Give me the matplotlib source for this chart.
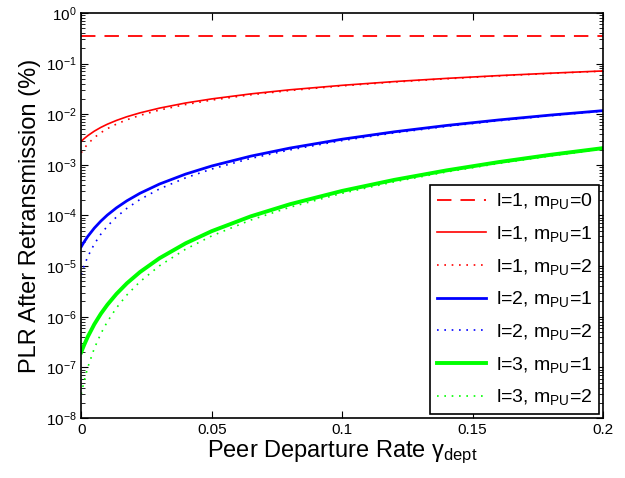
import matplotlib
matplotlib.use("Agg")
import matplotlib.pyplot as plt
import numpy as np

plt.rcParams['font.family'] = ['Liberation Sans', 'DejaVu Sans']
plt.rcParams['mathtext.fontset'] = 'custom'
plt.rcParams['mathtext.rm'] = 'Liberation Sans'
plt.rcParams['mathtext.it'] = 'Liberation Sans:italic'

# departure rate samples
gamma = [0, 0.001, 0.0025, 0.005, 0.0075, 0.01, 0.0135, 0.0175, 0.0225, 0.03,
         0.04, 0.05, 0.065, 0.08, 0.1, 0.12, 0.14, 0.16, 0.18, 0.2]

# log10 of PLR (%)
plr_l1_m0 = [-0.46] * len(gamma)
plr_l1_m1 = [-2.536, -2.487, -2.424, -2.335, -2.261, -2.198, -2.123, -2.050,
             -1.974, -1.880, -1.779, -1.698, -1.599, -1.518, -1.430, -1.356,
             -1.293, -1.238, -1.190, -1.146]
plr_l1_m2 = [-2.763, -2.684, -2.587, -2.462, -2.365, -2.286, -2.195, -2.110,
             -2.023, -1.918, -1.809, -1.722, -1.617, -1.533, -1.441, -1.365,
             -1.301, -1.245, -1.195, -1.150]
plr_l2_m1 = [-4.617, -4.530, -4.414, -4.250, -4.112, -3.992, -3.849, -3.710,
             -3.562, -3.379, -3.183, -3.023, -2.828, -2.669, -2.494, -2.348,
             -2.223, -2.114, -2.017, -1.930]
plr_l2_m2 = [-5.166, -5.007, -4.813, -4.564, -4.370, -4.211, -4.029, -3.859,
             -3.685, -3.475, -3.257, -3.083, -2.873, -2.705, -2.521, -2.370,
             -2.241, -2.129, -2.029, -1.940]
plr_l3_m1 = [-6.700, -6.570, -6.396, -6.149, -5.942, -5.764, -5.549, -5.339,
             -5.118, -4.844, -4.550, -4.310, -4.017, -3.778, -3.515, -3.297,
             -3.110, -2.946, -2.801, -2.670]
plr_l3_m2 = [-7.528, -7.291, -7.000, -6.625, -6.335, -6.097, -5.824, -5.569,
             -5.308, -4.993, -4.666, -4.404, -4.090, -3.837, -3.562, -3.335,
             -3.141, -2.973, -2.824, -2.690]

fig = plt.figure(figsize=(6.25, 4.78), dpi=100)
ax = fig.add_axes([0.13, 0.1255, 0.835, 0.8475])

g = np.array(gamma)
ax.plot(g, 10 ** np.array(plr_l1_m0), color='#ff0000', lw=1.3, dashes=(8, 5),
        label=r'l=1, m$_{\mathrm{PU}}$=0')
ax.plot(g, 10 ** np.array(plr_l1_m1), color='#ff0000', lw=1.2,
        label=r'l=1, m$_{\mathrm{PU}}$=1')
ax.plot(g, 10 ** np.array(plr_l1_m2), color='#ff0000', lw=1.2, dashes=(1, 3.4),
        label=r'l=1, m$_{\mathrm{PU}}$=2')
ax.plot(g, 10 ** np.array(plr_l2_m1), color='#0000ff', lw=2.0,
        label=r'l=2, m$_{\mathrm{PU}}$=1')
ax.plot(g, 10 ** np.array(plr_l2_m2), color='#0000ff', lw=1.2, dashes=(1, 3.4),
        label=r'l=2, m$_{\mathrm{PU}}$=2')
ax.plot(g, 10 ** np.array(plr_l3_m1), color='#00ff00', lw=2.8,
        label=r'l=3, m$_{\mathrm{PU}}$=1')
ax.plot(g, 10 ** np.array(plr_l3_m2), color='#00ff00', lw=1.2, dashes=(1, 3.4),
        label=r'l=3, m$_{\mathrm{PU}}$=2')

ax.set_yscale('log')
ax.set_xlim(0, 0.2)
ax.set_ylim(1e-8, 1)
ax.set_xticks([0, 0.05, 0.1, 0.15, 0.2])
ax.set_xticklabels(['0', '0.05', '0.1', '0.15', '0.2'])
ax.set_yticks([10.0 ** k for k in range(-8, 1)])
ax.tick_params(which='both', direction='in', top=True, right=True,
               labelsize=11)
ax.tick_params(which='major', length=5)
ax.tick_params(which='minor', length=3)
for s in ax.spines.values():
    s.set_linewidth(1.2)

ax.set_xlabel(r'Peer Departure Rate $\mathrm{\gamma}_{\mathrm{dept}}$',
              fontsize=17, labelpad=1)
ax.set_ylabel('PLR After Retransmission (%)', fontsize=17, labelpad=3)

leg = ax.legend(loc='lower right', fontsize=14, frameon=True, fancybox=False,
                framealpha=1, edgecolor='black', handlelength=2.5,
                handletextpad=0.5, borderaxespad=0.2, labelspacing=0.65,
                borderpad=0.35)
leg.get_frame().set_linewidth(1.2)

fig.savefig('out.png', dpi=100)
